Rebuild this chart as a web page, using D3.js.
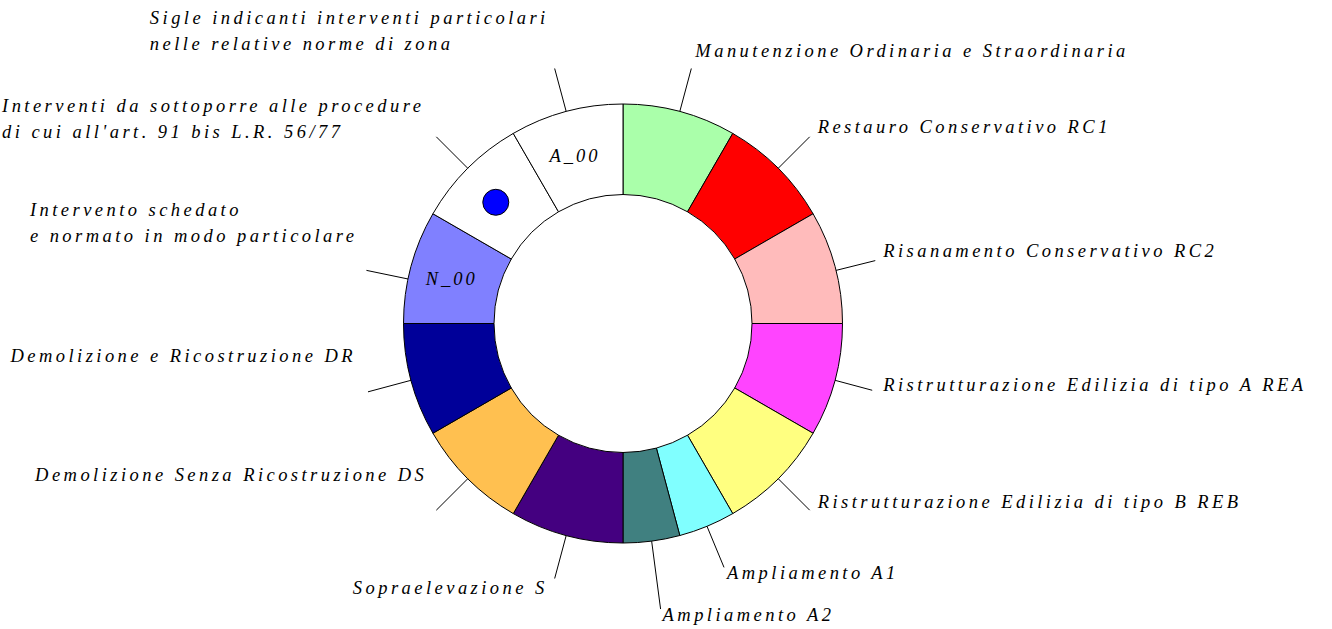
<!DOCTYPE html>
<html>
<head>
<meta charset="utf-8">
<script src="https://cdn.jsdelivr.net/npm/d3@7"></script>
<style>
  html, body { margin: 0; padding: 0; background: #fff; }
  svg { display: block; }
  .lbl { font-family: "Liberation Serif", serif; font-style: italic; font-size: 18.5px; letter-spacing: 3.45px; fill: #000; }
  .code { font-family: "Liberation Serif", serif; font-style: italic; font-size: 18.5px; letter-spacing: 3px; fill: #000; }
</style>
</head>
<body>
<script>
// sectors, clockwise from 12 o'clock
var categories = [
  "Manutenzione Ordinaria e Straordinaria",
  "Restauro Conservativo RC1",
  "Risanamento Conservativo RC2",
  "Ristrutturazione Edilizia di tipo A REA",
  "Ristrutturazione Edilizia di tipo B REB",
  "Ampliamento A1",
  "Ampliamento A2",
  "Sopraelevazione S",
  "Demolizione Senza Ricostruzione DS",
  "Demolizione e Ricostruzione DR",
  "Intervento schedato\ne normato in modo particolare",
  "Interventi da sottoporre alle procedure\ndi cui all'art. 91 bis L.R. 56/77",
  "Sigle indicanti interventi particolari\nnelle relative norme di zona"
]
var shares = [2, 2, 2, 2, 2, 1, 1, 2, 2, 2, 2, 2, 2]
var colors = ["#aaffaa", "#ff0000", "#ffbbbb", "#ff44ff", "#ffff80", "#80ffff", "#408080",
              "#440080", "#ffc050", "#000099", "#8080ff", "#ffffff", "#ffffff"]
var codes = ["", "", "", "", "", "", "", "", "", "", "N_00", "", "A_00"]
var markers = [0, 0, 0, 0, 0, 0, 0, 0, 0, 0, 0, 1, 0]

// label placement: [angle nudge (deg), leader length, text dx, text dy]
var labelLayout = [
  [0, 264, 4, -11], [0, 264, 8, -4], [1, 260, 8, -4], [0, 258, 11, 1],
  [0, 264, 8, -2], [0, 264, 3, 12], [0, 288, 2, 12],
  [0, 264, -7, 15], [0, 264, -9, -29], [0, 264, -12, -30],
  [-3.3, 262, -9, -28], [0, 264, -12, 1], [0, 264, -6, -18]
]

var w = 1332, h = 629
var cx = 623, cy = 323.5
var rIn = 129, rOut = 219.5

var svg = d3.select("body").append("svg")
  .attr("width", w)
  .attr("height", h)

var g = svg.append("g").attr("transform", "translate(" + cx + "," + cy + ")")

var pie = d3.pie().sort(null).value(function(d) { return d })
var arc = d3.arc().innerRadius(rIn).outerRadius(rOut)
var arcs = pie(shares)

g.selectAll("path.slice")
  .data(arcs)
  .enter().append("path")
  .attr("class", "slice")
  .attr("d", arc)
  .attr("fill", function(d, i) { return colors[i] })
  .attr("stroke", "#000")
  .attr("stroke-width", 1)

function pt(a, r) { return [r * Math.sin(a), -r * Math.cos(a)] }

// codes inside sectors
g.selectAll("text.code")
  .data(arcs.filter(function(d, i) { return codes[i] }))
  .enter().append("text")
  .attr("class", "code")
  .attr("text-anchor", "middle")
  .attr("x", function(d) { return arc.centroid(d)[0] - 3 })
  .attr("y", function(d) { return arc.centroid(d)[1] + 7 })
  .text(function(d) { return codes[d.index] })

// marker dot
arcs.forEach(function(d, i) {
  if (!markers[i]) return
  var c = arc.centroid(d)
  g.append("circle")
    .attr("cx", c[0] - 4).attr("cy", c[1] + 2)
    .attr("r", 13)
    .attr("fill", "#0000ff")
    .attr("stroke", "#000")
    .attr("stroke-width", 1)
})

// leaders and labels
arcs.forEach(function(d, i) {
  var lay = labelLayout[i]
  var a = (d.startAngle + d.endAngle) / 2 + lay[0] * Math.PI / 180
  var p0 = pt(a, rOut), p1 = pt(a, lay[1])
  g.append("line")
    .attr("x1", p0[0]).attr("y1", p0[1])
    .attr("x2", p1[0]).attr("y2", p1[1])
    .attr("stroke", "#000")
    .attr("stroke-width", 1)

  var lines = categories[i].split("\n")
  var right = Math.sin(a) > 0
  var lg = g.append("g")
  var t = lg.append("text").attr("class", "lbl")
  lines.forEach(function(s, k) {
    t.append("tspan").attr("x", 0).attr("y", (k - (lines.length - 1)) * 26).text(s)
  })
  var bx = p1[0] + lay[2]
  if (!right) {
    var wmax = d3.max(t.selectAll("tspan").nodes(), function(n) { return n.getComputedTextLength() })
    bx -= wmax
  }
  lg.attr("transform", "translate(" + bx + "," + (p1[1] + lay[3]) + ")")
})
</script>
</body>
</html>
